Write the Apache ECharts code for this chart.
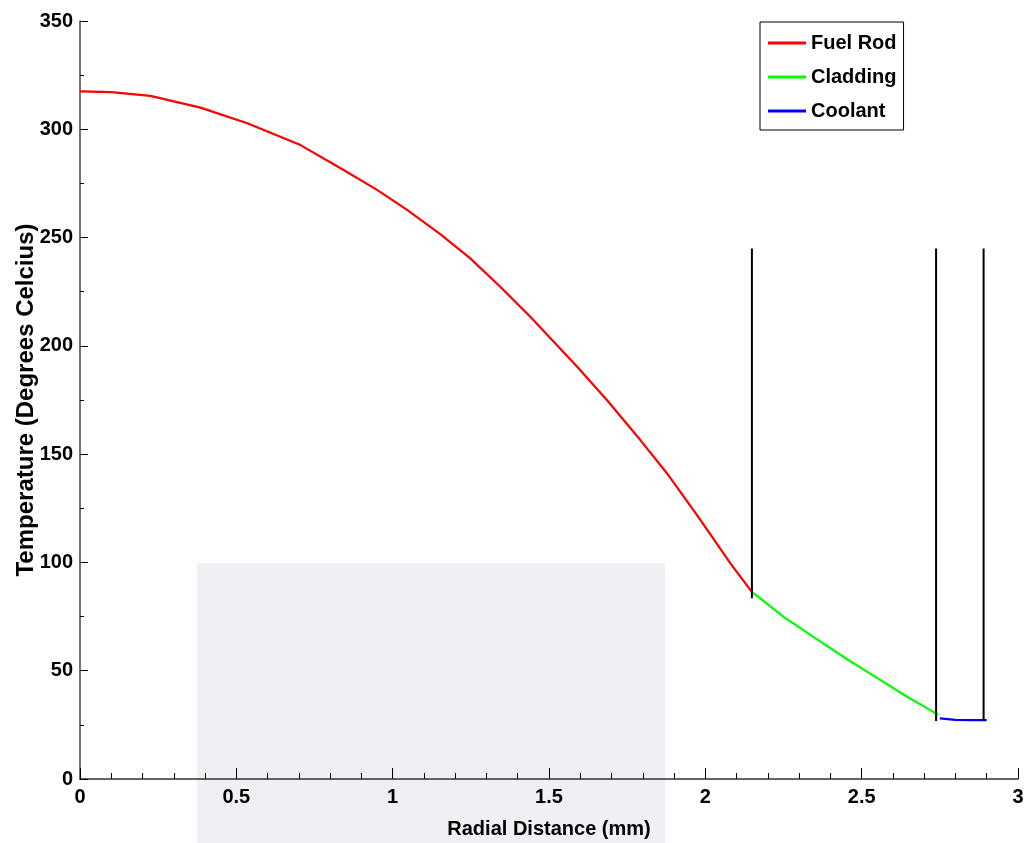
<!DOCTYPE html>
<html>
<head>
<meta charset="utf-8">
<script src="https://cdn.jsdelivr.net/npm/echarts@6/dist/echarts.min.js"></script>
<style>
  html, body { margin: 0; padding: 0; background: #fff; }
  #chart { width: 1029px; height: 843px; }
</style>
</head>
<body>
<div id="chart"></div>
<script>
// radial distance (mm) and temperature (°C)
const fuelX = [0, 0.1, 0.225, 0.385, 0.535, 0.705, 0.843, 0.95, 1.046, 1.153, 1.248, 1.344, 1.44, 1.59, 1.685, 1.792, 1.877, 1.984, 2.08, 2.148]
const fuelT = [317.5, 317.2, 315.4, 310.0, 302.8, 292.7, 281.2, 272.0, 262.8, 251.5, 240.4, 227.3, 213.4, 190.4, 175.0, 156.5, 141.2, 119.6, 99.6, 86.5]

const claddingX = [2.148, 2.25, 2.35, 2.453, 2.55, 2.645, 2.7, 2.745]
const claddingT = [86.5, 74.9, 65.2, 55.3, 46.6, 38.0, 33.4, 29.6]

const coolantX = [2.75, 2.8, 2.85, 2.9]
const coolantT = [28.0, 27.3, 27.2, 27.2]

// region boundaries drawn as black vertical lines
const boundaryX = [2.149, 2.738, 2.89]
const boundaryTop = 245
const boundaryBottom = [83.5, 26.8, 26.8]

const seriesNames = ['Fuel Rod', 'Cladding', 'Coolant']
const seriesColors = ['#ff0000', '#00ff00', '#0000ff']

const xTicks = [0, 0.5, 1, 1.5, 2, 2.5, 3]
const yTicks = [0, 50, 100, 150, 200, 250, 300, 350]

const font = "'Liberation Sans', Arial, sans-serif"

const zip = (xs, ys) => xs.map((x, i) => [x, ys[i]])

const curves = [zip(fuelX, fuelT), zip(claddingX, claddingT), zip(coolantX, coolantT)]

const chart = echarts.init(document.getElementById('chart'))

const option = {
  animation: false,
  backgroundColor: '#fff',
  graphic: [{
    type: 'rect',
    z: -10,
    silent: true,
    shape: { x: 197, y: 563, width: 468, height: 280 },
    style: { fill: '#efeff4' }
  }],
  grid: { left: 80, right: 11, top: 21, bottom: 64, containLabel: false, outerBoundsMode: 'none' },
  legend: {
    data: seriesNames,
    orient: 'vertical',
    left: 760,
    top: 22,
    padding: [10, 7, 8, 8],
    itemGap: 12,
    itemWidth: 38,
    itemHeight: 3,
    icon: 'rect',
    borderColor: '#000',
    borderWidth: 1,
    backgroundColor: '#fff',
    textStyle: { fontFamily: font, fontWeight: 'bold', fontSize: 20, color: '#000', lineHeight: 22 }
  },
  xAxis: {
    type: 'value',
    min: 0,
    max: 3,
    interval: 0.5,
    name: 'Radial Distance (mm)',
    nameLocation: 'middle',
    nameGap: 40,
    nameMoveOverlap: false,
    nameTextStyle: { fontFamily: font, fontWeight: 'bold', fontSize: 20, color: '#000' },
    axisLine: { lineStyle: { color: '#333', width: 1.5 } },
    axisTick: { inside: true, length: 11, lineStyle: { color: '#000' } },
    minorTick: { show: true, splitNumber: 5, length: 6, lineStyle: { color: '#000' } },
    axisLabel: {
      margin: 8,
      fontFamily: font, fontWeight: 'bold', fontSize: 20, color: '#000',
      formatter: v => String(xTicks.find(t => Math.abs(t - v) < 1e-9) ?? v)
    },
    splitLine: { show: false }
  },
  yAxis: {
    type: 'value',
    min: 0,
    max: 350,
    interval: 50,
    name: 'Temperature (Degrees Celcius)',
    nameLocation: 'middle',
    nameGap: 42,
    nameMoveOverlap: false,
    nameTextStyle: { fontFamily: font, fontWeight: 'bold', fontSize: 24, color: '#000' },
    axisLine: { show: true, lineStyle: { color: '#444', width: 1.5 } },
    axisTick: { show: true, inside: true, length: 8, lineStyle: { color: '#000' } },
    minorTick: { show: true, splitNumber: 2, length: 4, lineStyle: { color: '#000' } },
    axisLabel: {
      margin: 7,
      fontFamily: font, fontWeight: 'bold', fontSize: 20, color: '#000',
      formatter: v => String(yTicks.find(t => t === v) ?? v)
    },
    splitLine: { show: false }
  },
  series: [
    ...seriesNames.map((name, i) => ({
      name,
      type: 'line',
      data: curves[i],
      symbol: 'none',
      color: seriesColors[i],
      lineStyle: { width: 2.2, color: seriesColors[i] },
      z: 3
    })),
    ...boundaryX.map((x, i) => ({
      name: 'boundary' + i,
      type: 'line',
      data: [[x, boundaryTop], [x, boundaryBottom[i]]],
      symbol: 'none',
      lineStyle: { width: 2, color: '#000' },
      z: 4
    }))
  ]
}

chart.setOption(option)
</script>
</body>
</html>
